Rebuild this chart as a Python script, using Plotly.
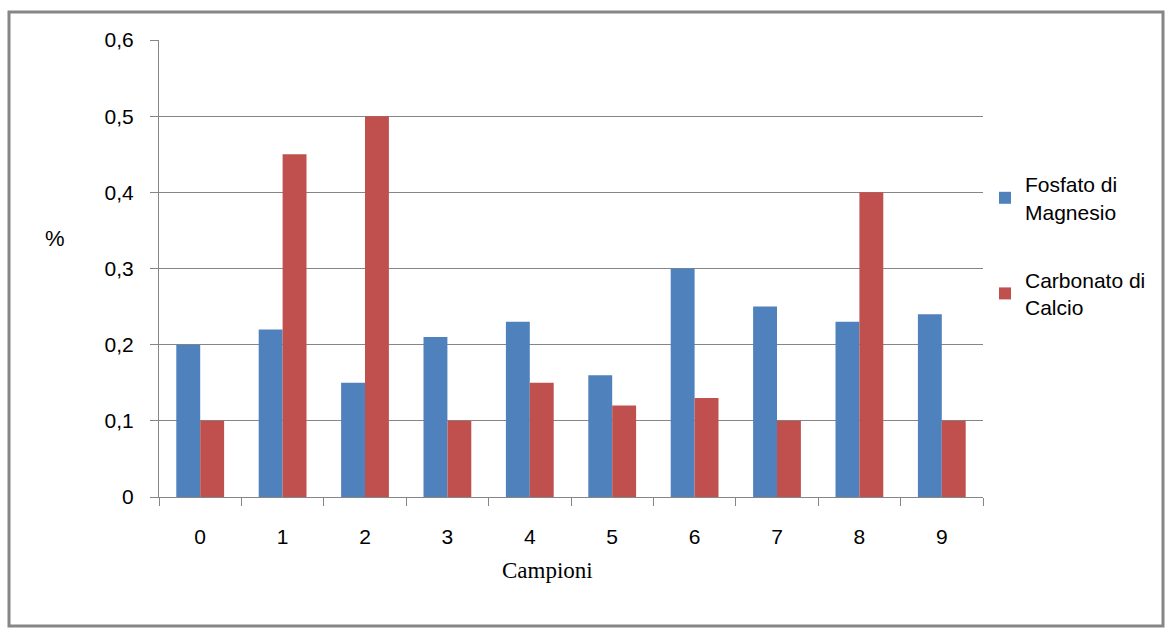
import plotly.graph_objects as go

categories = ["0", "1", "2", "3", "4", "5", "6", "7", "8", "9"]
fosfato = [0.20, 0.22, 0.15, 0.21, 0.23, 0.16, 0.30, 0.25, 0.23, 0.24]
carbonato = [0.10, 0.45, 0.50, 0.10, 0.15, 0.12, 0.13, 0.10, 0.40, 0.10]
y_tickvals = [0, 0.1, 0.2, 0.3, 0.4, 0.5, 0.6]
y_ticktext = ["0", "0,1", "0,2", "0,3", "0,4", "0,5", "0,6"]

SANS = "Liberation Sans, Arial, sans-serif"
SERIF = "Liberation Serif, Times New Roman, serif"
GRAY = "#868686"

fig = go.Figure()
fig.add_trace(go.Bar(x=categories, y=fosfato, name="Fosfato di<br>Magnesio",
                     marker=dict(color="#4F81BD", line=dict(width=0)), legendgroup="a"))
fig.add_trace(go.Bar(x=categories, y=carbonato, name="Carbonato di<br>Calcio",
                     marker=dict(color="#C0504D", line=dict(width=0)), legendgroup="b"))

fig.update_layout(
    width=1168, height=630,
    margin=dict(l=159, r=185, t=40, b=133),
    paper_bgcolor="white", plot_bgcolor="white",
    barmode="group", bargap=0.42, bargroupgap=0,
    font=dict(family=SANS, size=21, color="black"),
    legend=dict(x=(985 - 159) / 824, y=(497 - 164) / 457, xanchor="left", yanchor="top",
                font=dict(family=SANS, size=21), tracegroupgap=38,
                itemwidth=30, bgcolor="rgba(0,0,0,0)"),
    showlegend=True,
)
fig.update_xaxes(
    type="category", showgrid=False, showline=True, linecolor=GRAY, linewidth=1,
    ticks="outside", tickson="boundaries", ticklen=8, tickcolor=GRAY,
    tickfont=dict(family=SANS, size=21), ticklabelstandoff=21,
)
fig.update_yaxes(
    range=[0, 0.6], tickvals=y_tickvals, ticktext=y_ticktext,
    showgrid=True, gridcolor=GRAY, gridwidth=1,
    showline=True, linecolor=GRAY, linewidth=1,
    ticks="outside", ticklen=8, tickcolor=GRAY, ticklabelstandoff=12,
    tickfont=dict(family=SANS, size=21), zeroline=False,
)
fig.add_annotation(text="%", xref="paper", yref="paper",
                   x=(43 - 159) / 824, y=(497 - 238) / 457,
                   showarrow=False, font=dict(family=SANS, size=22))
fig.add_annotation(text="Campioni", xref="paper", yref="paper",
                   x=(547 - 159) / 824, y=(497 - 585) / 457,
                   showarrow=False, font=dict(family=SERIF, size=23))
fig.add_shape(type="rect", xref="paper", yref="paper",
              x0=(9 - 159) / 824, x1=(1163 - 159) / 824,
              y0=(497 - 626) / 457, y1=(497 - 12) / 457,
              line=dict(color=GRAY, width=3), fillcolor="rgba(0,0,0,0)")

fig.write_html("out.html", config={"displayModeBar": False},
               post_script="document.body.style.margin='0';")
